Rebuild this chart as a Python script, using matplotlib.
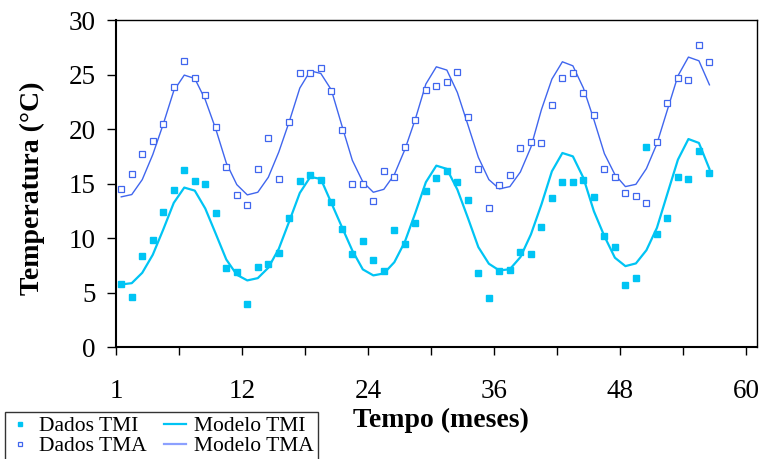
import matplotlib
matplotlib.use("Agg")
import matplotlib.pyplot as plt
from matplotlib.lines import Line2D

plt.rcParams["font.family"] = ["Liberation Serif", "DejaVu Serif"]

# monthly values, months 1..57
dados_tmi = [5.76, 4.60, 8.39, 9.85, 12.41, 14.46, 16.22, 15.25, 14.97, 12.35,
             7.23, 6.92, 3.93, 7.38, 7.66, 8.63, 11.89, 15.25, 15.80, 15.34,
             13.36, 10.80, 8.57, 9.73, 7.96, 6.98, 10.73, 9.48, 11.41, 14.33,
             15.49, 16.16, 15.19, 13.51, 6.80, 4.54, 7.01, 7.10, 8.75, 8.57,
             11.04, 13.72, 15.13, 15.19, 15.34, 13.82, 10.22, 9.21, 5.67, 6.37,
             18.39, 10.37, 11.83, 15.64, 15.43, 17.96, 15.98]
dados_tma = [14.52, 15.92, 17.75, 18.94, 20.46, 23.88, 26.23, 24.67, 23.09, 20.16,
             16.56, 13.97, 13.08, 16.38, 19.21, 15.43, 20.61, 25.13, 25.13, 25.59,
             23.51, 19.88, 14.97, 14.97, 13.45, 16.13, 15.64, 18.33, 20.83, 23.57,
             23.94, 24.31, 25.25, 21.11, 16.38, 12.78, 14.88, 15.77, 18.27, 18.85,
             18.76, 22.20, 24.67, 25.13, 23.30, 21.32, 16.38, 15.64, 14.15, 13.88,
             13.24, 18.82, 22.35, 24.67, 24.46, 27.72, 26.14]
modelo_tmi = [5.76, 5.88, 6.83, 8.48, 10.80, 13.24, 14.64, 14.36, 12.72, 10.40,
              8.05, 6.65, 6.13, 6.34, 7.29, 9.03, 11.56, 14.15, 15.62, 15.43,
              13.24, 11.04, 8.87, 7.14, 6.59, 6.77, 7.80, 9.67, 12.32, 15.13,
              16.65, 16.35, 14.46, 11.87, 9.18, 7.66, 7.04, 7.16, 8.26, 10.34,
              13.08, 16.13, 17.81, 17.50, 15.53, 12.47, 10.18, 8.21, 7.44, 7.69,
              8.90, 10.95, 14.09, 17.20, 19.09, 18.73, 16.35]
modelo_tma = [13.79, 14.00, 15.37, 17.66, 20.46, 23.51, 24.95, 24.64, 22.69, 20.00,
              16.90, 14.91, 13.97, 14.21, 15.58, 17.90, 20.70, 23.76, 25.34, 25.10,
              23.60, 20.34, 17.14, 15.16, 14.21, 14.48, 15.83, 18.12, 20.92, 24.13,
              25.71, 25.41, 23.36, 20.40, 17.41, 15.37, 14.52, 14.73, 16.07, 18.33,
              21.77, 24.58, 26.17, 25.80, 23.76, 20.86, 17.75, 15.83, 14.73, 14.94,
              16.38, 18.66, 21.77, 24.88, 26.60, 26.26, 24.06]
meses = list(range(1, len(dados_tmi) + 1))
tick_pos = list(range(0, 61, 6))
tick_lab = ["1", "", "12", "", "24", "", "36", "", "48", "", "60"]

c_tmi = "#00C4F4"
c_tma = "#4066EE"

fig = plt.figure(figsize=(7.66, 4.59), dpi=100)
ax = fig.add_axes([116 / 766, 1 - 347.3 / 459, (756.7 - 116) / 766, (347.3 - 20) / 459])

x = [m - 0.5 for m in meses]
ax.plot(x, modelo_tmi, color=c_tmi, lw=1.6)
ax.plot(x, modelo_tma, color=c_tma, lw=1.0)
ax.plot(x, dados_tmi, ls="none", marker="s", ms=4.3, mfc=c_tmi, mec=c_tmi)
ax.plot(x, dados_tma, ls="none", marker="s", ms=4.0, mfc="white", mec=c_tma, mew=0.9)

ax.set_xlim(0, 61)
ax.set_ylim(0, 30)
ax.set_xticks(tick_pos)
ax.set_xticklabels(tick_lab)
ax.set_yticks(range(0, 31, 5))
ax.tick_params(axis="x", direction="out", length=6, width=1, pad=17, labelsize=19.5)
ax.tick_params(axis="y", direction="out", length=6.5, width=1, pad=8, labelsize=19.5)
for s in ["left", "bottom"]:
    ax.spines[s].set_linewidth(1.5)
for s in ["top", "right"]:
    ax.spines[s].set_linewidth(1.0)

fig.text(32 / 766, 1 - 188 / 459, "Temperatura (°C)", fontsize=20, fontweight="bold",
         rotation=90, ha="center", va="center")
fig.text(441 / 766, 1 - 420 / 459, "Tempo (meses)", fontsize=20, fontweight="bold",
         ha="center", va="center")

handles = [
    Line2D([], [], ls="none", marker="s", ms=3.5, mfc=c_tmi, mec=c_tmi),
    Line2D([], [], ls="none", marker="s", ms=3.5, mfc="white", mec=c_tma, mew=0.9),
    Line2D([], [], color=c_tmi, lw=1.6),
    Line2D([], [], color="#8CA0FF", lw=1.6),
]
labels = ["Dados TMI", "Dados TMA", "Modelo TMI", "Modelo TMA"]
leg = fig.legend(handles, labels, ncol=2, loc="upper left",
                 bbox_to_anchor=(5 / 766, 1 - 412 / 459), fontsize=15.5,
                 frameon=True, fancybox=False, edgecolor="black",
                 handlelength=1.0, handletextpad=0.4, columnspacing=0.8,
                 labelspacing=0.0, borderpad=0.2, borderaxespad=0)
leg.get_frame().set_linewidth(1.0)

fig.savefig("out.png", dpi=100)
